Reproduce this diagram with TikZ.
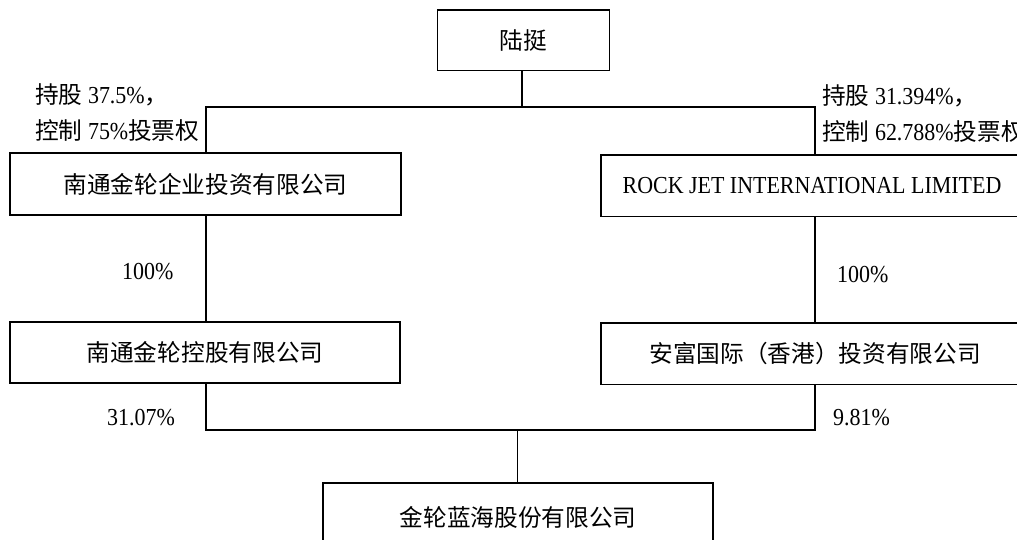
\documentclass[tikz,border=0pt]{standalone}
\usepackage{fontspec}
\setmainfont[FakeStretch=0.9]{Liberation Serif}
\newfontfamily\cjk[Scale=0.97]{Noto Sans CJK SC}
\begin{document}
\begin{tikzpicture}[x=1pt,y=-1pt,
  box/.style={draw, line width=1.6pt, rectangle, inner sep=0pt, font=\fontsize{24.4}{28}\selectfont},
  lbl/.style={anchor=west, inner sep=0pt, font=\fontsize{24.4}{28}\selectfont},
  conn/.style={line width=1.6pt},
  thinconn/.style={line width=1pt}]
\useasboundingbox (0,0) rectangle (1017,539);
\clip (0,0) rectangle (1017,539);
\fill[white] (0,0) rectangle (1017,539);

\node[box, minimum width=172pt, minimum height=60.5pt] (lt) at (523.5,40.25) {\cjk 陆挺};
\node[box, minimum width=391pt, minimum height=62pt] (a) at (205.5,184) {\cjk 南通金轮企业投资有限公司};
\node[box, minimum width=422pt, minimum height=61.5pt] (b) at (812,185.75) {ROCK JET INTERNATIONAL LIMITED};
\node[box, minimum width=390pt, minimum height=61pt] (c) at (205,352.2) {\cjk 南通金轮控股有限公司};
\node[box, minimum width=428pt, minimum height=61.6pt] (d) at (815,353.5) {\cjk 安富国际（香港）投资有限公司};
\node[box, minimum width=390pt, minimum height=68pt] (e) at (518,517) {\cjk 金轮蓝海股份有限公司};

\coordinate (j1) at (522,107);
\coordinate (ja) at (206,107);
\coordinate (jb) at (815,107);
\coordinate (k1) at (517,430);

\draw[conn] (lt.south -| j1) -- (j1);
\draw[conn] (ja |- a.north) -- (ja) -- (jb) -- (jb |- b.north);
\draw[conn] (a.south -| ja) -- (c.north -| ja);
\draw[conn] (b.south -| jb) -- (d.north -| jb);
\draw[conn] (c.south -| ja) -- (ja |- k1) -- (jb |- k1) -- (d.south -| jb);
\draw[thinconn] (k1) -- (e.north -| k1);

\node[lbl] (l1) at (35,95) {{\cjk 持股} 37.5\%{\cjk ，}};
\node[lbl] (l2) at (35,131) {{\cjk 控制} 75\%{\cjk 投票权}};
\node[lbl] (r1) at (822,96) {{\cjk 持股} 31.394\%{\cjk ，}};
\node[lbl] (r2) at (822,132) {{\cjk 控制} 62.788\%{\cjk 投票权}};
\node[lbl] (p1) at (122,272) {100\%};
\node[lbl] (p2) at (837,275) {100\%};
\node[lbl] (q1) at (107,418) {31.07\%};
\node[lbl] (q2) at (833,418) {9.81\%};
\end{tikzpicture}
\end{document}
